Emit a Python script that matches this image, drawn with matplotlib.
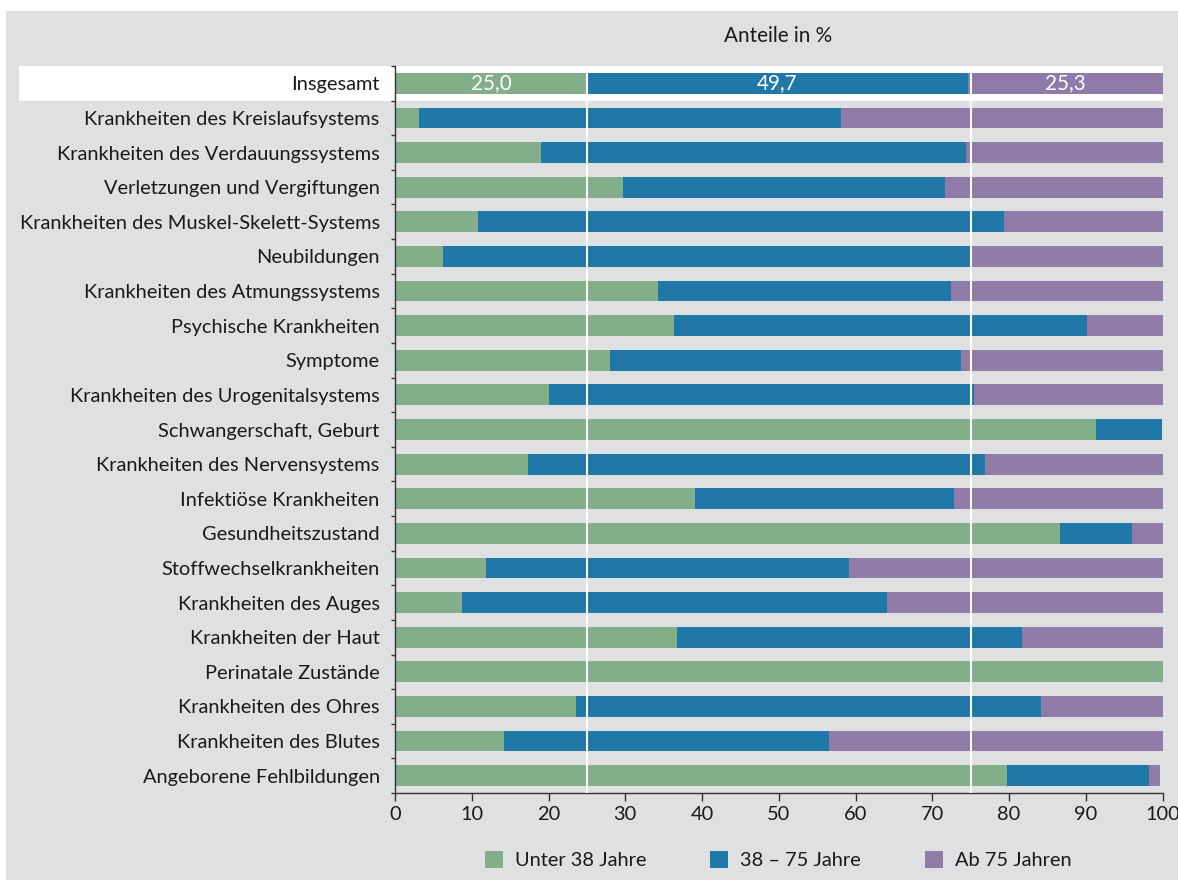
import matplotlib
matplotlib.use("Agg")
import matplotlib.pyplot as plt
from matplotlib.patches import Rectangle, Patch
import matplotlib.transforms as mtransforms
import numpy as np

### Data (Anteile in %) ###
categories = [
    "Insgesamt",
    "Krankheiten des Kreislaufsystems",
    "Krankheiten des Verdauungssystems",
    "Verletzungen und Vergiftungen",
    "Krankheiten des Muskel-Skelett-Systems",
    "Neubildungen",
    "Krankheiten des Atmungssystems",
    "Psychische Krankheiten",
    "Symptome",
    "Krankheiten des Urogenitalsystems",
    "Schwangerschaft, Geburt",
    "Krankheiten des Nervensystems",
    "Infektiöse Krankheiten",
    "Gesundheitszustand",
    "Stoffwechselkrankheiten",
    "Krankheiten des Auges",
    "Krankheiten der Haut",
    "Perinatale Zustände",
    "Krankheiten des Ohres",
    "Krankheiten des Blutes",
    "Angeborene Fehlbildungen",
]
unter_38 = [25.0, 3.1, 19.0, 29.7, 10.8, 6.3, 34.3, 36.4, 28.0, 20.1, 91.4,
            17.3, 39.1, 86.6, 11.9, 8.7, 36.8, 100.0, 23.6, 14.2, 79.8]
von_38_bis_75 = [49.7, 55.0, 55.4, 42.0, 68.5, 68.6, 38.1, 53.7, 45.8, 55.4, 8.6,
                 59.6, 33.7, 9.4, 47.3, 55.4, 44.9, 0.0, 60.6, 42.3, 18.4]
ab_75 = [25.3, 41.9, 25.6, 28.3, 20.7, 25.1, 27.6, 9.9, 26.2, 24.5, 0.0,
         23.1, 27.2, 4.0, 40.8, 35.9, 18.3, 0.0, 15.8, 43.5, 1.5]
series_names = ["Unter 38 Jahre", "38 – 75 Jahre", "Ab 75 Jahren"]
xticks = list(range(0, 101, 10))

### Style ###
c_green = "#82ae8a"
c_blue = "#1f78a8"
c_purple = "#8f7aa8"
c_bg = "#dfe0e2"
c_text = "#1a1a1a"
fs = 14.4

plt.rcParams["font.family"] = ["Lato", "DejaVu Sans"]

fig = plt.figure(figsize=(11.78, 8.8), dpi=100)
fig.patch.set_facecolor("white")
# grey panel behind everything
fig.patches.append(Rectangle((6 / 1178, 0), 1 - 6 / 1178, 1 - 11 / 880,
                             transform=fig.transFigure, facecolor=c_bg,
                             edgecolor="none", zorder=-10))

ax = fig.add_axes([395 / 1178, 1 - 793 / 880, 767.5 / 1178, 727 / 880])
ax.set_facecolor(c_bg)

y = np.arange(len(categories))
left2 = np.array(unter_38)
left3 = left2 + np.array(von_38_bis_75)
ax.barh(y, unter_38, height=0.6, color=c_green, zorder=2)
ax.barh(y, von_38_bis_75, left=left2, height=0.6, color=c_blue, zorder=2)
ax.barh(y, ab_75, left=left3, height=0.6, color=c_purple, zorder=2)

# white highlight band for "Insgesamt"
trans = mtransforms.blended_transform_factory(ax.transAxes, ax.transData)
ax.add_patch(Rectangle((-376 / 767.5, -0.5), 1 + 376 / 767.5, 1.0, transform=trans,
                       facecolor="white", edgecolor="none", clip_on=False, zorder=1))

# value labels for the total row
starts = [0, left2[0], left3[0]]
widths = [unter_38[0], von_38_bis_75[0], ab_75[0]]
for s, w in zip(starts, widths):
    ax.text(s + w / 2, 0, f"{w:.1f}".replace(".", ","), ha="center", va="center",
            color="white", fontsize=fs + 0.5, zorder=4)

# white reference lines
for xv in (25, 75):
    ax.axvline(xv, color="white", lw=1.5, zorder=3)

ax.set_xlim(0, 100)
ax.set_ylim(len(categories) - 0.5, -0.5)
ax.set_xticks(xticks)
ax.set_xticklabels([str(t) for t in xticks], fontsize=fs, color=c_text)
ax.set_yticks(y)
ax.set_yticklabels(categories, fontsize=fs, color=c_text)
ax.set_yticks(np.arange(-0.5, len(categories), 1), minor=True)
ax.tick_params(axis="y", which="major", length=0, pad=11)
ax.tick_params(axis="y", which="minor", length=3, width=1, color="#333333")
ax.tick_params(axis="x", which="major", length=6, width=1, color="#333333", pad=3)

for side in ("top", "right"):
    ax.spines[side].set_visible(False)
for side in ("left", "bottom"):
    ax.spines[side].set_color("#333333")
    ax.spines[side].set_linewidth(1)

fig.text(778 / 1178, 1 - 36 / 880, "Anteile in %", ha="center", va="center",
         fontsize=fs + 0.5, color=c_text)

handles = [Patch(facecolor=c, edgecolor="none") for c in (c_green, c_blue, c_purple)]
fig.legend(handles, series_names, loc="center", bbox_to_anchor=(778 / 1178, 1 - 860 / 880),
           ncol=3, frameon=False, fontsize=fs, handlelength=0.9, handleheight=0.9,
           handletextpad=0.6, columnspacing=3.2, labelcolor=c_text)

fig.savefig("out.png", dpi=100, facecolor=fig.get_facecolor())
